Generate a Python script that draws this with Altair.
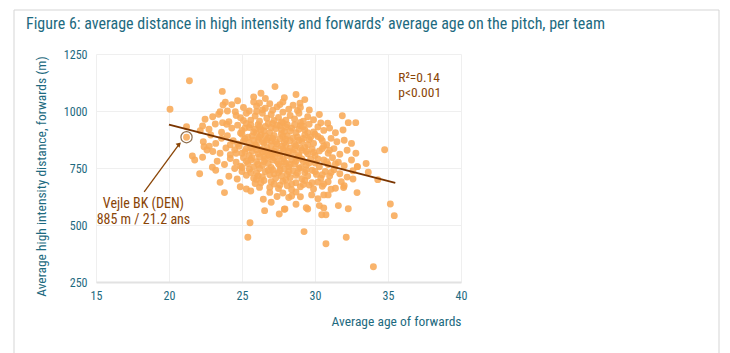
import altair as alt
import pandas as pd

FONT = "Roboto Condensed, Liberation Sans Narrow, Roboto, sans-serif"
TEAL = "#1d6a80"
BROWN = "#8a4506"
DOT = "#f8aa58"

title_text = "Figure 6: average distance in high intensity and forwards\u2019 average age on the pitch, per team"
x_title = "Average age of forwards"
y_title = "Average high intensity distance, forwards (m)"
x_ticks = [15, 20, 25, 30, 35, 40]
y_ticks = [250, 500, 750, 1000, 1250]

# (average age of forwards, high intensity distance in m), one per team
points = [
    (21.4, 1133), (23.65, 1086), (27.26, 1107), (25.8, 1062), (26.6, 1055), (27.9, 1058),
    (28.7, 1072), (29.3, 1050), (24.7, 1045), (26.3, 1078),
    (20.07, 1008), (23.86, 1038), (23.7, 1026), (24.3, 1028), (25.1, 1015), (25.5, 1000),
    (26.0, 1022), (26.4, 1005), (26.9, 1032), (27.4, 1018), (27.8, 1040), (28.2, 1008),
    (28.5, 1025), (28.97, 1034), (29.61, 1004), (27.1, 1003), (25.8, 1040), (28.8, 1002),
    (24.0, 1000), (26.6, 1012), (27.6, 1028), (26.2, 1035), (29.0, 1015),
    (22.47, 964), (22.99, 975), (23.5, 997), (23.4, 986), (24.54, 997), (24.1, 953),
    (24.9, 970), (25.3, 990), (25.6, 960), (25.9, 978), (26.2, 955), (26.4, 990),
    (26.7, 968), (27.0, 985), (27.2, 958), (27.5, 972), (27.8, 995), (28.0, 960),
    (28.3, 980), (28.6, 965), (28.9, 990), (29.2, 955), (29.5, 975), (29.9, 962),
    (30.3, 985), (31.87, 979), (30.87, 946), (26.0, 998), (27.7, 952), (29.0, 950),
    (25.1, 958), (24.6, 980),
    (21.2, 931), (22.3, 934), (22.14, 914), (22.74, 920), (23.17, 943), (23.67, 949),
    (23.95, 942), (23.6, 907), (24.3, 925), (24.7, 938), (25.0, 915), (25.3, 945),
    (25.5, 928), (25.8, 908), (26.1, 940), (26.3, 918), (26.6, 932), (26.9, 905),
    (27.1, 945), (27.3, 922), (27.6, 935), (27.9, 910), (28.1, 940), (28.4, 925),
    (28.7, 905), (29.0, 935), (29.3, 918), (29.6, 942), (29.9, 908), (30.2, 930),
    (30.6, 915), (31.0, 925), (31.92, 917), (32.28, 949), (32.79, 949), (31.4, 905),
    (30.4, 948), (26.0, 902), (27.8, 948), (24.9, 903),
    (25.2, 925), (25.6, 940), (25.9, 920), (26.2, 930), (26.5, 912), (26.8, 945),
    (27.0, 928), (27.4, 938), (27.7, 918), (28.0, 930), (28.3, 912), (28.6, 940),
    (28.9, 920), (29.2, 932), (29.5, 905),
    (21.2, 885), (22.86, 895), (22.35, 865), (23.6, 880), (23.2, 858), (24.0, 892),
    (24.4, 870), (24.7, 855), (25.0, 898), (25.2, 878), (25.5, 862), (25.7, 890),
    (25.9, 852), (26.1, 875), (26.3, 895), (26.5, 860), (26.8, 882), (27.0, 868),
    (27.2, 893), (27.4, 855), (27.6, 878), (27.9, 862), (28.1, 890), (28.3, 870),
    (28.6, 855), (28.8, 885), (29.1, 866), (29.3, 895), (29.6, 875), (29.9, 858),
    (30.2, 888), (30.5, 870), (30.8, 852), (31.1, 880), (31.5, 865), (32.0, 872),
    (32.5, 858), (26.6, 890), (27.7, 900), (24.2, 852), (29.5, 852), (30.0, 898),
    (25.1, 868), (25.4, 885), (25.8, 872), (26.2, 885), (26.4, 865), (26.7, 872),
    (27.1, 880), (27.3, 865), (27.8, 888), (28.0, 875), (28.5, 882), (28.9, 872),
    (29.2, 880), (29.7, 885), (30.4, 880),
    (21.6, 803), (22.4, 843), (22.76, 846), (22.6, 829), (23.0, 822), (23.5, 815),
    (23.9, 838), (24.2, 808), (24.5, 830), (24.8, 845), (25.0, 815), (25.3, 835),
    (25.5, 805), (25.7, 825), (25.9, 845), (26.1, 812), (26.3, 832), (26.5, 802),
    (26.7, 840), (26.9, 820), (27.1, 808), (27.3, 835), (27.5, 815), (27.7, 845),
    (27.9, 825), (28.1, 805), (28.3, 838), (28.5, 818), (28.7, 848), (28.9, 808),
    (29.1, 828), (29.3, 840), (29.5, 812), (29.8, 832), (30.0, 805), (30.3, 825),
    (30.6, 845), (30.9, 815), (31.3, 835), (31.7, 810), (32.2, 828), (32.8, 815),
    (26.0, 848), (27.0, 848), (28.0, 850), (26.4, 820), (27.6, 802),
    (24.6, 815), (25.2, 822), (25.6, 840), (26.0, 830), (26.6, 825), (26.8, 808),
    (27.2, 822), (27.8, 835), (28.2, 822), (28.6, 830), (29.0, 838), (29.4, 822),
    (29.9, 818), (30.5, 835), (31.0, 828),
    (21.76, 785), (22.3, 797), (22.97, 753), (23.3, 780), (23.8, 765), (24.2, 792),
    (24.6, 775), (24.9, 758), (25.1, 795), (25.4, 770), (25.6, 785), (25.8, 755),
    (26.0, 778), (26.2, 798), (26.4, 762), (26.6, 788), (26.8, 770), (27.0, 752),
    (27.2, 795), (27.4, 778), (27.6, 760), (27.8, 790), (28.0, 770), (28.2, 755),
    (28.4, 785), (28.6, 768), (28.8, 795), (29.0, 752), (29.2, 778), (29.4, 762),
    (29.7, 790), (30.0, 772), (30.3, 755), (30.6, 785), (30.9, 765), (31.2, 795),
    (31.6, 775), (32.0, 760), (32.5, 785), (32.9, 756), (33.5, 770), (25.0, 752),
    (26.9, 800), (28.9, 800),
    (25.3, 780), (25.7, 795), (26.1, 765), (26.5, 778), (27.1, 785), (27.5, 768),
    (27.9, 778), (28.3, 765), (28.7, 780), (29.1, 790), (29.6, 772), (30.2, 790),
    (30.8, 778), (31.4, 768),
    (22.1, 725), (24.1, 714), (24.67, 702), (25.0, 735), (25.3, 718), (25.5, 745),
    (25.8, 705), (26.0, 728), (26.2, 748), (26.4, 712), (26.6, 735), (26.9, 720),
    (27.1, 742), (27.3, 705), (27.5, 730), (27.7, 715), (27.9, 745), (28.1, 722),
    (28.3, 708), (28.5, 738), (28.7, 718), (28.9, 748), (29.1, 703), (29.3, 730),
    (29.5, 715), (29.8, 740), (30.1, 722), (30.4, 705), (30.7, 735), (31.0, 715),
    (31.3, 742), (31.7, 725), (32.2, 710), (32.6, 738), (33.65, 731), (32.6, 702),
    (23.2, 740), (24.5, 748), (32.9, 756),
    (25.6, 730), (26.1, 715), (26.8, 740), (27.2, 725), (27.6, 740), (28.2, 735),
    (28.8, 728), (29.4, 742), (30.0, 735), (30.5, 720), (31.1, 730),
    (23.5, 687), (24.88, 668), (25.3, 658), (25.6, 649), (25.9, 682), (26.2, 665),
    (26.5, 695), (26.9, 665), (27.2, 680), (27.5, 660), (27.8, 692), (28.1, 672),
    (28.4, 655), (28.7, 685), (29.0, 668), (29.3, 695), (29.6, 675), (29.9, 658),
    (30.2, 688), (30.5, 670), (30.9, 690), (31.1, 657), (31.4, 661), (31.96, 664),
    (32.0, 672), (31.8, 690), (34.3, 699), (26.0, 700), (28.0, 698),
    (26.3, 685), (27.0, 690), (27.6, 675), (28.4, 680), (29.2, 678), (29.8, 685),
    (30.6, 680),
    (23.8, 642), (26.46, 613), (26.9, 643), (27.4, 625), (27.8, 640), (28.2, 621),
    (28.4, 627), (29.0, 624), (29.77, 632), (30.6, 632), (30.9, 632), (32.88, 642),
    (27.0, 600), (28.7, 645), (30.2, 615),
    (28.7, 591), (30.6, 575), (30.3, 585), (29.5, 570), (29.4, 576), (27.9, 569),
    (31.6, 585), (32.28, 571), (30.75, 545), (30.46, 545), (26.55, 563), (27.55, 548),
    (27.94, 570), (25.55, 510), (25.4, 446), (29.25, 471), (30.75, 418), (32.14, 446),
    (34.0, 317), (35.16, 592), (35.43, 541), (34.77, 830),
]
age = [p[0] for p in points]
distance = [p[1] for p in points]

# regression line end points
reg_age = [20.0, 35.5]
reg_dist = [940, 685]

# highlighted team
hl_age = [21.2]
hl_dist = [885]
hl_lines = ["Vejle BK (DEN)", "885 m / 21.2 ans"]
hl_text_age = [18.25, 18.25]
hl_text_dist = [590, 522]
arrow_age = [18.3, 20.7]
arrow_dist = [645, 855]

stats_lines = ["R\u00b2=0.14", "p<0.001"]
stats_age = [35.7, 35.7]
stats_dist = [1146, 1081]

df = pd.DataFrame({"age": age, "distance": distance})
reg_df = pd.DataFrame({"age": reg_age, "distance": reg_dist})
hl_df = pd.DataFrame({"age": hl_age, "distance": hl_dist})
hl_text_df = pd.DataFrame({"age": hl_text_age, "distance": hl_text_dist, "label": hl_lines})
arrow_df = pd.DataFrame({"age": arrow_age, "distance": arrow_dist, "order": [0, 1]})
head_df = arrow_df.iloc[[1]]
stats_df = pd.DataFrame({"age": stats_age, "distance": stats_dist, "label": stats_lines})

xs = alt.Scale(domain=[15, 40], nice=False)
ys = alt.Scale(domain=[250, 1250], nice=False)

axis_style = dict(
    labelFont=FONT, labelFontSize=12, labelColor=TEAL, labelFontWeight="normal",
    titleFont=FONT, titleFontSize=13.5, titleColor=TEAL, titleFontWeight="normal",
    ticks=False, gridColor="#efefef", format="d",
)

x_enc = alt.X("age:Q", scale=xs, axis=alt.Axis(values=x_ticks, title=x_title, titleAnchor="end",
              titlePadding=13, labelPadding=8, domainColor="#e2e2e2", domainWidth=2,
              labelFlush=False, **axis_style))
y_enc = alt.Y("distance:Q", scale=ys, axis=alt.Axis(values=y_ticks, title=y_title, titlePadding=15,
              titleY=122, labelPadding=9, domain=False, **axis_style))

frame = alt.Chart(pd.DataFrame({"k": [0]})).mark_rect(
    fill=None, stroke="#d5d5d5", strokeWidth=1
).encode(x=alt.value(-82), x2=alt.value(623), y=alt.value(-44), y2=alt.value(320))

title = alt.Chart(pd.DataFrame({"t": [title_text]})).mark_text(
    align="left", baseline="middle", font=FONT, fontSize=16, color=TEAL, fontWeight="normal"
).encode(x=alt.value(-70), y=alt.value(-30), text="t:N")

dots = alt.Chart(df).mark_circle(size=48, color=DOT, opacity=0.88).encode(x=x_enc, y=y_enc)

reg = alt.Chart(reg_df).mark_line(color="#7a3500", strokeWidth=1.8).encode(x="age:Q", y="distance:Q")

hl = alt.Chart(hl_df).mark_point(size=125, color="#5e3000", strokeWidth=1.2, filled=False).encode(
    x="age:Q", y="distance:Q")

arrow = alt.Chart(arrow_df).mark_line(color="#8a4506", strokeWidth=1.3).encode(
    x="age:Q", y="distance:Q", order="order:Q")
head = alt.Chart(head_df).mark_point(shape="triangle-up", filled=True, size=30, angle=45,
                                      color="#8a4506", opacity=1).encode(x="age:Q", y="distance:Q")

hl_text = alt.Chart(hl_text_df).mark_text(font=FONT, fontSize=14, color=BROWN, fontWeight="normal",
                                          align="center", baseline="middle").encode(
    x="age:Q", y="distance:Q", text="label:N")

stats = alt.Chart(stats_df).mark_text(font=FONT, fontSize=13.5, color=BROWN, fontWeight="normal",
                                      align="left", baseline="middle").encode(
    x="age:Q", y="distance:Q", text="label:N")

chart = alt.layer(frame, title, dots, reg, hl, arrow, head, hl_text, stats).properties(
    width=365, height=228,
    background="white",
    autosize=alt.AutoSizeParams(type="none"),
    padding={"left": 96, "top": 54, "right": 269, "bottom": 71},
).configure_view(stroke=None)

chart.save("out.html", embed_options={"renderer": "svg", "actions": False})
